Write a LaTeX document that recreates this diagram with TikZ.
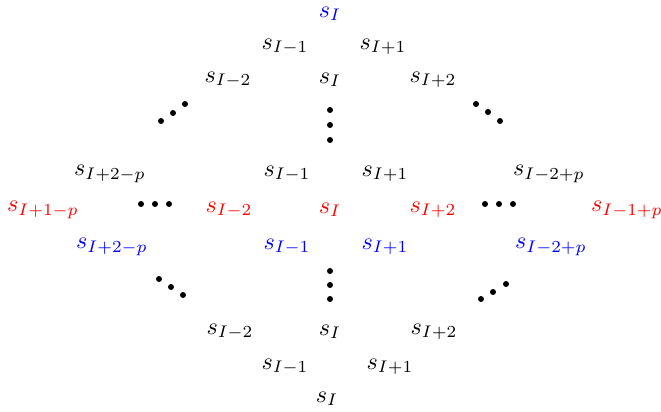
\documentclass[tikz,border=0pt]{standalone}
\usepackage{amsmath,amssymb}
\usepackage{xcolor}
\usepackage{tikz}

\begin{document}
\begin{tikzpicture}[
  x=0.0146cm, y=-0.0146cm,
  st/.style={inner sep=0pt},
  blu/.style={st, text=blue},
  rd/.style={st, text=red},
  dot/.style={fill=black}]
\useasboundingbox (0,0) rectangle (661,412);
% top cone
\node[blu] (t0) at (330,14) {$s_I$};
\node[st] (t1m) at (285,47) {$s_{I-1}$};
\node[st] (t1p) at (383,47) {$s_{I+1}$};
\node[st] (t2m) at (228,80) {$s_{I-2}$};
\node[st] (t0b) at (330,80) {$s_I$};
\node[st] (t2p) at (433,80) {$s_{I+2}$};
% dots above the middle band
\foreach \x/\y in {161/121,173/113,185/104, 330/110,330/125,330/140, 476/104,488/112,500/121}
  \fill[dot] (\x,\y) circle (3);
% middle band
\node[st] (m2mp) at (110,174) {$s_{I+2-p}$};
\node[st] (m1m) at (287,174) {$s_{I-1}$};
\node[st] (m1p) at (385,174) {$s_{I+1}$};
\node[st] (m2pp) at (549,174) {$s_{I-2+p}$};
\node[rd] (r1mp) at (43,210) {$s_{I+1-p}$};
\node[rd] (r2m) at (229,210) {$s_{I-2}$};
\node[rd] (r0) at (330,210) {$s_I$};
\node[rd] (r2p) at (433,210) {$s_{I+2}$};
\node[rd] (r1pp) at (627,210) {$s_{I-1+p}$};
\foreach \x in {141,155,169, 485,499,513}
  \fill[dot] (\x,204) circle (3);
\node[blu] (b2mp) at (112,247) {$s_{I+2-p}$};
\node[blu] (b1m) at (287,247) {$s_{I-1}$};
\node[blu] (b1p) at (385,247) {$s_{I+1}$};
\node[blu] (b2pp) at (551,247) {$s_{I-2+p}$};
% dots below the middle band
\foreach \x/\y in {159/279,171/287,183/295, 330/271,330/285,330/299, 481/299,493/292,506/284}
  \fill[dot] (\x,\y) circle (3);
% bottom cone
\node[st] (d2m) at (230,332) {$s_{I-2}$};
\node[st] (d0) at (330,332) {$s_I$};
\node[st] (d2p) at (434,332) {$s_{I+2}$};
\node[st] (d1m) at (285,367) {$s_{I-1}$};
\node[st] (d1p) at (390,367) {$s_{I+1}$};
\node[st] (dd0) at (327,399) {$s_I$};
\end{tikzpicture}
\end{document}
